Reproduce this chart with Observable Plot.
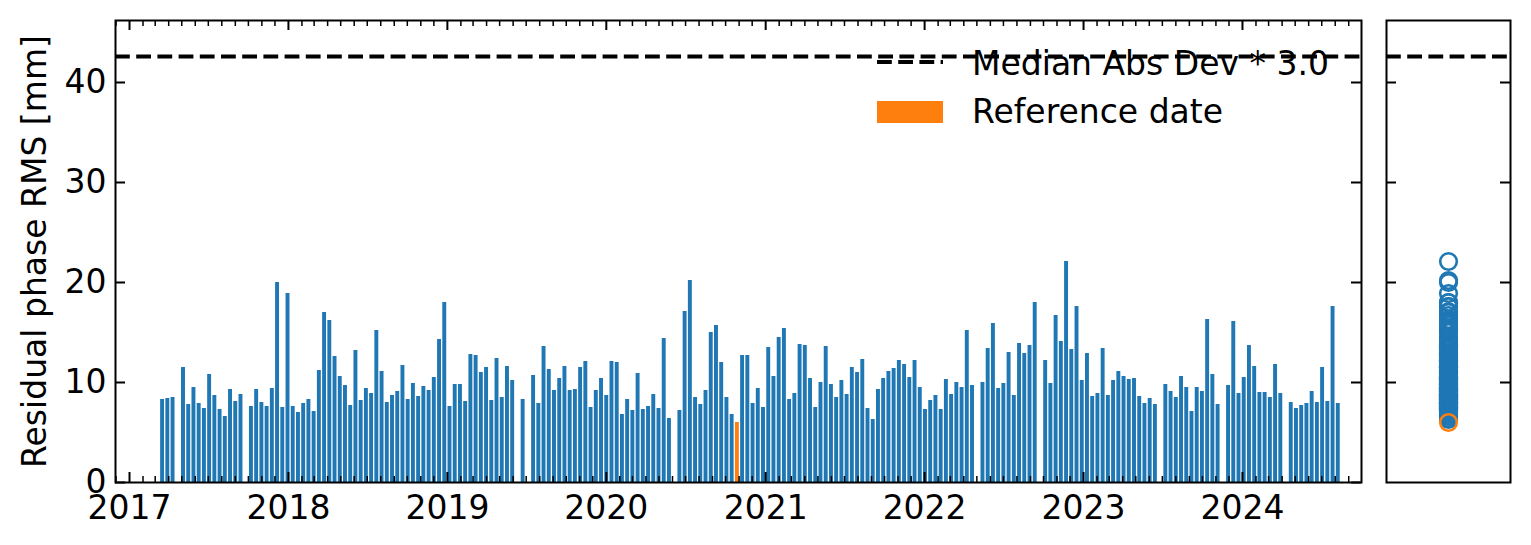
<!DOCTYPE html>
<html>
<head>
<meta charset="utf-8">
<script src="https://cdn.jsdelivr.net/npm/d3@7"></script>
<script src="https://cdn.jsdelivr.net/npm/@observablehq/plot@0.6"></script>
<style>
  html, body { margin: 0; padding: 0; background: #fff; }
  #wrap { position: relative; width: 1531px; height: 545px; overflow: hidden; font-family: "DejaVu Sans", sans-serif; }
  #main, #side, #legend { position: absolute; top: 0; }
  #main { left: 0; }
  #side { left: 1370px; }
  #legend { left: 0; pointer-events: none; }
</style>
</head>
<body>
<div id="wrap">
  <div id="main"></div>
  <div id="side"></div>
  <svg id="legend" width="1531" height="545"></svg>
</div>
<script>
// ---- Data ----
// Acquisitions on a regular 12-day revisit grid; null = missing acquisition.
const startDate = "2017-03-18";
const revisitDays = 12;
const rmsValues = [
  8.3, 8.4, 8.5, null, 11.5, 7.8, 9.5, 7.9, 7.4, 10.8,
  8.7, 7.3, 6.6, 9.3, 8.1, 8.8, null, 7.6, 9.3, 8.0,
  7.6, 9.4, 20.0, 7.5, 18.9, 7.6, 7.0, 7.9, 8.3, 7.1,
  11.2, 17.0, 16.2, 12.6, 10.6, 9.7, 7.7, 13.2, 8.2, 9.4,
  8.9, 15.2, 11.1, 8.0, 8.7, 9.1, 11.7, 8.3, 9.9, 8.6,
  9.6, 9.2, 10.5, 14.3, 18.0, 7.6, 9.8, 9.8, 8.1, 12.8,
  12.7, 11.0, 11.5, 8.2, 12.4, 8.5, 11.6, 10.2, null, 8.3,
  null, 10.7, 7.9, 13.6, 11.3, 9.2, 10.4, 11.6, 9.2, 9.3,
  11.5, 12.1, 7.5, 9.2, 10.4, 8.7, 12.1, 12.0, 6.8, 8.3,
  7.2, 10.9, 7.3, 7.6, 8.8, 7.4, 14.4, 6.4, null, 7.2,
  17.1, 20.2, 8.5, 7.8, 9.2, 15.0, 15.7, 12.0, 8.5, 6.8,
  6.0, 12.7, 12.7, 7.9, 9.4, 7.5, 13.5, 10.6, 14.5, 15.4,
  8.3, 8.9, 13.8, 13.7, 10.4, 7.5, 10.0, 13.6, 9.8, 8.5,
  10.2, 8.8, 11.5, 11.0, 12.3, 7.4, 6.3, 9.3, 10.4, 11.1,
  11.4, 12.2, 11.8, 10.5, 12.2, 9.5, 7.3, 8.2, 8.7, 7.3,
  10.3, 8.8, 10.0, 9.5, 15.2, 9.7, null, 10.0, 13.4, 15.9,
  9.4, 9.9, 13.0, 8.7, 13.9, 12.9, 13.7, 18.0, null, 12.2,
  9.9, 16.7, 14.1, 22.1, 13.3, 17.6, 10.2, 12.9, 8.6, 8.9,
  13.4, 8.7, 10.2, 11.1, 10.6, 10.3, 10.4, 8.6, 7.9, 8.4,
  7.8, null, 9.8, 9.1, 8.5, 10.6, 9.5, 7.1, 9.5, 9.1,
  16.3, 10.8, 7.8, null, 9.7, 16.1, 8.9, 10.5, 13.7, 11.6,
  9.0, 9.0, 8.5, 11.8, 8.9, null, 8.0, 7.4, 7.7, 7.9,
  9.1, 8.0, 11.5, 8.1, 17.6, 7.9
];
const referenceIndex = 110;
const madThreshold = 42.6;
const yTicks = [0, 10, 20, 30, 40];
const yearTicks = ["2017", "2018", "2019", "2020", "2021", "2022", "2023", "2024"];
const yLabel = "Residual phase RMS [mm]";
const legendLabels = ["Median Abs Dev * 3.0", "Reference date"];

// ---- Styling ----
const BLUE = "#1f77b4", ORANGE = "#ff7f0e";
const FONT = "DejaVu Sans";
const FS = 33;
const xDomain = [new Date("2016-11-29T20:00Z"), new Date("2024-09-30T08:00Z")];
const yDomain = [0, 46.2];

// ---- Build table ----
const DAY = 864e5;
const t0 = new Date(startDate + "T00:00Z").getTime();
const bars = rmsValues.map((v, i) => {
  const date = new Date(t0 + i * revisitDays * DAY);
  return {date, x1: new Date(+date - 4.5 * DAY), x2: new Date(+date + 4.5 * DAY), rms: v, ref: i === referenceIndex};
}).filter(d => d.rms != null);

// ---- Main panel ----
const mW = 1370, mH = 545, mL = 115, mR = 9, mT = 20, mB = 63;
const pW = mW - mL - mR, pH = mH - mT - mB;
const years = yearTicks.map(y => new Date(y + "-01-01T00:00Z"));
const months = d3.utcMonths(xDomain[0], xDomain[1]).filter(d => d.getUTCMonth() !== 0);

const main = Plot.plot({
  width: mW, height: mH,
  marginLeft: mL, marginRight: mR, marginTop: mT, marginBottom: mB,
  style: {fontFamily: FONT, fontSize: FS + "px", background: "white", color: "black"},
  x: {type: "utc", domain: xDomain},
  y: {domain: yDomain},
  marks: [
    Plot.rectY(bars.filter(d => !d.ref), {x1: "x1", x2: "x2", y: "rms", fill: BLUE}),
    Plot.rectY(bars.filter(d => d.ref), {x1: "x1", x2: "x2", y: "rms", fill: ORANGE}),
    Plot.ruleY([madThreshold], {stroke: "black", strokeWidth: 4, strokeDasharray: "14.8,6.4"}),
    // inward ticks
    Plot.tickY(yTicks, {y: d => d, insetRight: pW - 10, stroke: "black", strokeWidth: 2}),
    Plot.tickY(yTicks, {y: d => d, insetLeft: pW - 10, stroke: "black", strokeWidth: 2}),
    Plot.tickX(years, {x: d => d, insetTop: pH - 10, stroke: "black", strokeWidth: 2}),
    Plot.tickX(years, {x: d => d, insetBottom: pH - 10, stroke: "black", strokeWidth: 2}),
    Plot.tickX(months, {x: d => d, insetTop: pH - 6, stroke: "black", strokeWidth: 1.5}),
    Plot.tickX(months, {x: d => d, insetBottom: pH - 6, stroke: "black", strokeWidth: 1.5}),
    Plot.frame({stroke: "black", strokeWidth: 2}),
    Plot.axisX({ticks: years, tickFormat: d3.utcFormat("%Y"), tickSize: 0, tickPadding: 13, fontSize: FS, label: null}),
    Plot.axisY({ticks: yTicks, tickSize: 0, tickPadding: 9, fontSize: FS, label: null}),
    Plot.text([yLabel], {text: d => d, frameAnchor: "left", rotate: -90, dx: -80, fontSize: FS, textAnchor: "middle", lineAnchor: "middle", fill: "black"})
  ]
});
document.getElementById("main").appendChild(main);

// ---- Side panel ----
const sW = 161, sL = 16, sR = 21;
const sPW = sW - sL - sR;
const side = Plot.plot({
  width: sW, height: mH,
  marginLeft: sL, marginRight: sR, marginTop: mT, marginBottom: mB,
  style: {fontFamily: FONT, fontSize: FS + "px", background: "white", color: "black"},
  x: {domain: [-1, 1], axis: null},
  y: {domain: yDomain, axis: null},
  marks: [
    Plot.ruleY([madThreshold], {stroke: "black", strokeWidth: 4, strokeDasharray: "14.8,6.4"}),
    Plot.dot(bars.filter(d => !d.ref), {x: () => 0, y: "rms", r: 8.3, stroke: BLUE, strokeWidth: 2.6, fill: "none"}),
    Plot.dot(bars.filter(d => d.ref), {x: () => 0, y: "rms", r: 8.3, stroke: ORANGE, strokeWidth: 2.6, fill: "none"}),
    Plot.tickY(yTicks.slice(1), {y: d => d, insetRight: sPW - 10, stroke: "black", strokeWidth: 2}),
    Plot.tickY(yTicks.slice(1), {y: d => d, insetLeft: sPW - 10, stroke: "black", strokeWidth: 2}),
    Plot.frame({stroke: "black", strokeWidth: 2})
  ]
});
document.getElementById("side").appendChild(side);

// ---- Legend overlay ----
const lg = d3.select("#legend");
lg.append("line").attr("x1", 877).attr("x2", 943).attr("y1", 62).attr("y2", 62)
  .attr("stroke", "black").attr("stroke-width", 4).attr("stroke-dasharray", "14.8,6.4");
lg.append("rect").attr("x", 877).attr("y", 101).attr("width", 66).attr("height", 22).attr("fill", ORANGE);
lg.selectAll("text.lab").data(legendLabels).join("text")
  .attr("class", "lab")
  .attr("x", 972).attr("y", (d, i) => i === 0 ? 75 : 123)
  .attr("font-family", FONT).attr("font-size", FS).attr("fill", "black")
  .text(d => d);
</script>
</body>
</html>
